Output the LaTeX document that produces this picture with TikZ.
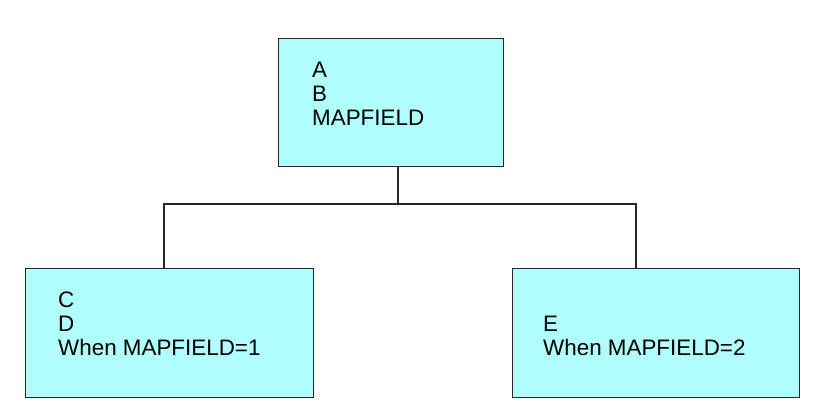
\documentclass[tikz,border=0pt]{standalone}
\usepackage{fontspec}
\setmainfont{Liberation Sans}
\usepackage{xcolor}
\usetikzlibrary{positioning}
\definecolor{boxcyan}{RGB}{176,255,252}

\begin{document}
\begin{tikzpicture}[x=1pt,y=1pt,
  box/.style={draw=black!85,line width=1.3pt,fill=boxcyan,rectangle,inner sep=0pt,anchor=north west},
  lbl/.style={align=left,inner sep=0pt,anchor=base west,font=\fontsize{22.4}{24}\selectfont},
  wire/.style={draw=black!85,line width=1.2pt}]
 \useasboundingbox (0,0) rectangle (824,-420);
 \node[box,minimum width=225pt,minimum height=128pt] (top) at (278,-38) {};
 \node[box,minimum width=288pt,minimum height=129pt] (left) at (25,-268) {};
 \node[box,minimum width=287pt,minimum height=129pt] (right) at (512,-268) {};
 % base of a multi-line label is its last line
 \node[lbl] (toptxt) at (312,-125) {A\\B\\MAPFIELD};
 \node[lbl] (lefttxt) at (58,-355) {C\\D\\When MAPFIELD=1};
 \node[lbl] (righttxt) at (543,-355) {E\\When MAPFIELD=2};
 \coordinate (split) at (398,-204);
 \coordinate (jL) at (164,-204); \coordinate (jR) at (636,-204);
 \draw[wire] (top.south -| split) -- (split);
 \draw[wire] (left.north -| jL) -- (jL) -- (jR) -- (right.north -| jR);
\end{tikzpicture}
\end{document}
